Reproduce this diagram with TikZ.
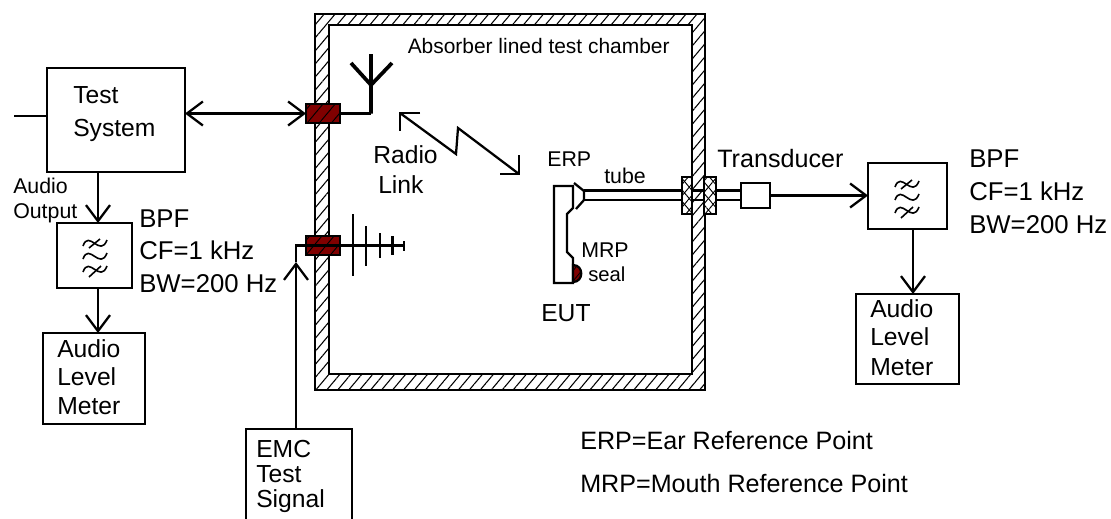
\documentclass[tikz,border=0pt]{standalone}
\usepackage{fontspec}
\setmainfont{Liberation Sans}
\usetikzlibrary{arrows.meta,patterns.meta}
\definecolor{portred}{HTML}{800000}
\tikzset{
  pxbox/.style 2 args={draw,line width=1.6pt,inner sep=0,outer sep=0,minimum width=#1*0.75pt,minimum height=#2*0.75pt},
  lbl/.style={inner sep=0,anchor=base west,font=\fontsize{18.5}{20}\selectfont},
  keylbl/.style={lbl,font=\fontsize{18.85}{20}\selectfont},
  bpflbl/.style={lbl,font=\fontsize{19.3}{20}\selectfont},
  smalllbl/.style={inner sep=0,anchor=base west,font=\fontsize{16}{18}\selectfont},
  port/.style={pxbox={34}{19},fill=portred,postaction={pattern={Lines[angle=50,distance=7pt,line width=.7pt]}}},
  gland/.style={pxbox={#1}{37},fill=white,postaction={pattern={Lines[angle=50,distance=5.5pt,line width=.7pt]}},postaction={pattern={Lines[angle=-50,distance=5.5pt,line width=.7pt]}}},
  wire/.style={line width=1.7pt},
  wiretip/.style={wire,>={Straight Barb[length=12pt,width=18pt]}},
  filtersym/.pic={
    \foreach \r in {-13,0,13}
      \draw[line width=1.2pt] (-12,\r+3) .. controls (-6,\r-14) and (5,\r+15) .. (12,\r-3);
    \draw[line width=1.2pt] (-6,-8) -- (5,-17);
    \draw[line width=1.2pt] (-6,21) -- (6,10);
  }
}
\begin{document}
\begin{tikzpicture}[x=0.75pt,y=-0.75pt]
  \clip (0,0) rectangle (1111,518);
  % chamber wall
  \draw[wire,even odd rule,pattern={Lines[angle=50,distance=6.3pt,line width=.8pt]}]
    (315,14) rectangle (705,390) (329,25) rectangle (692,374);
  \node[smalllbl,font=\fontsize{15.7}{18}\selectfont] (chamberlbl) at (407.5,53) {Absorber lined test chamber};
  % left side
  \node[pxbox={138}{104}] (testsys) at (116,120) {};
  \node[lbl] (testlbl) at (73,103) {Test};
  \node[lbl] (systemlbl) at (73,136) {System};
  \node[smalllbl] (audiolbl) at (13,193) {Audio};
  \node[smalllbl] (outputlbl) at (13,218) {Output};
  \node[pxbox={75}{65}] (bpfA) at (94.5,255.5) {};
  \pic at (95,256) {filtersym};
  \node[bpflbl] (bpfAa) at (139,227) {BPF};
  \node[bpflbl] (bpfAb) at (139,259) {CF=1 kHz};
  \node[bpflbl] (bpfAc) at (139,292) {BW=200 Hz};
  \node[pxbox={102}{91}] (meterA) at (94,378.5) {};
  \node[lbl] (meterAa) at (57,357) {Audio};
  \node[lbl] (meterAb) at (57,385) {Level};
  \node[lbl] (meterAc) at (57,414) {Meter};
  \node[pxbox={106}{110}] (emc) at (299,484) {};
  \node[lbl] (emcA) at (256,457) {EMC};
  \node[lbl] (emcB) at (256,482) {Test};
  \node[lbl] (emcC) at (256,507) {Signal};
  % ports in the wall
  \node[port] (portA) at (323,113.5) {};
  \node[port] (portB) at (323,245.5) {};
  % antennas
  \coordinate (stubA) at (14,116);
  \coordinate (ant) at (371,113.5);
  \coordinate (antfork) at (371,85);
  \coordinate (anttop) at (371,54);
  \coordinate (antl) at (351,63);
  \coordinate (antr) at (392,63);
  \coordinate (logend) at (404,245.5);
  \coordinate (corner) at (296,245.5);
  \coordinate (emctip) at (296,262);
  \draw[wire] (portA) -- (ant);
  \draw[line width=2.8pt] (ant) -- (anttop) (antl) -- (antfork) -- (antr);
  \draw[wire] (portB.center) -- (logend);
  \draw[wire] (353,214) -- (353,276);
  \draw[wire] (366,226) -- (366,266);
  \draw[wire] (380,233) -- (380,258);
  \draw[wire] (392.5,236) -- (392.5,255);
  \draw[wire] (404,241) -- (404,251);
  % radio link
  \coordinate (linkA) at (400,113);
  \coordinate (linkB) at (456,154);
  \coordinate (linkC) at (458,128);
  \coordinate (linkD) at (519,174);
  \draw[wire] (linkA) -- (linkB) -- (linkC) -- (linkD);
  \draw[wire] (420,113) -- (linkA) -- (400,131);
  \draw[wire] (500,174) -- (linkD) -- (519,155);
  \node[lbl] (radiolbl) at (373,163) {Radio};
  \node[lbl] (linklbl) at (378,193) {Link};
  % phone
  \draw[wire] (554,186) -- (573,186) -- (573,208) -- (567,214) -- (567,252) -- (573,258)
    -- (573,283) -- (554,283) -- cycle;
  \draw[wire] (574,183) -- (584,191) -- (584,200) -- (576,209);
  \draw[wire,fill=portred,postaction={pattern={Lines[angle=50,distance=5pt,line width=.6pt]}}]
    (573,265) .. controls (584,265) and (584,282) .. (573,282) -- cycle;
  \node[smalllbl] (erplbl) at (547,166) {ERP};
  \node[smalllbl] (tubelbl) at (604,183) {tube};
  \node[smalllbl] (mrplbl) at (581,257) {MRP};
  \node[smalllbl,font=\fontsize{15.2}{18}\selectfont] (seallbl) at (588,281) {seal};
  \node[lbl] (eutlbl) at (541,321) {EUT};
  % tube and transducer
  \node[pxbox={29}{25}] (transducer) at (755.5,195.5) {};
  \draw[wire] (584,190.5) -- (transducer.west |- 0,190.5);
  \draw[wire] (584,200) -- (transducer.west |- 0,200);
  \node[gland=10] (glandA) at (687,195.5) {};
  \node[gland=12] (glandB) at (710,195.5) {};
  \node[keylbl] (transducerlbl) at (717,167) {Transducer};
  % right side
  \node[pxbox={79}{66}] (bpfB) at (907.5,196) {};
  \pic at (907,197) {filtersym};
  \node[bpflbl] (bpfBa) at (969,167) {BPF};
  \node[bpflbl] (bpfBb) at (969,200) {CF=1 kHz};
  \node[bpflbl] (bpfBc) at (969,233) {BW=200 Hz};
  \node[pxbox={103}{90}] (meterB) at (907.5,339) {};
  \node[lbl] (meterBa) at (870,317) {Audio};
  \node[lbl] (meterBb) at (870,345) {Level};
  \node[lbl] (meterBc) at (870,375) {Meter};
  \node[keylbl] (erpkey) at (580,449) {ERP=Ear Reference Point};
  \node[keylbl] (mrpkey) at (580,492) {MRP=Mouth Reference Point};
  % connections
  \draw[wire] (stubA) -- (stubA -| testsys.west);
  \draw[wiretip,<->] (testsys.east |- portA) -- (portA.west);
  \draw[wiretip,->] (testsys.south -| 98,0) -- (bpfA.north -| 98,0);
  \draw[wiretip,->] (bpfA.south -| 98,0) -- (meterA.north -| 98,0);
  \draw[wiretip,->] (emc.north -| corner) -- (emctip);
  \draw[wire] (emctip) -- (corner) -- (portB.center);
  \draw[wiretip,->] (transducer.east) -- (bpfB.west |- transducer.east);
  \draw[wiretip,->] (bpfB.south -| 913,0) -- (meterB.north -| 913,0);
\end{tikzpicture}
\end{document}
